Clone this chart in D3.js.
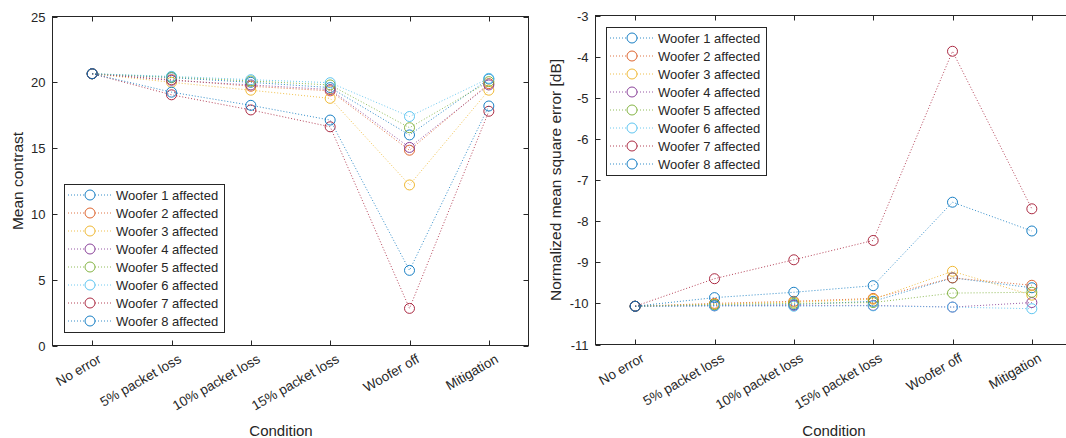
<!DOCTYPE html>
<html>
<head>
<meta charset="utf-8">
<script src="https://cdn.jsdelivr.net/npm/d3@7"></script>
<style>
  body { margin: 0; background: #fff; }
  svg { font-family: "Liberation Sans", Arial, sans-serif; }
  text { fill: #262626; }
</style>
</head>
<body>
<svg id="chart" width="1066" height="438"></svg>
<script>
// conditions on the x axis
const conditions = ['No error', '5% packet loss', '10% packet loss', '15% packet loss', 'Woofer off', 'Mitigation'];
const woofers = ['Woofer 1 affected', 'Woofer 2 affected', 'Woofer 3 affected', 'Woofer 4 affected',
  'Woofer 5 affected', 'Woofer 6 affected', 'Woofer 7 affected', 'Woofer 8 affected'];
const colors = ['#0072BD', '#D95319', '#EDB120', '#7E2F8E', '#77AC30', '#4DBEEE', '#A2142F', '#0072BD'];

// left panel: mean contrast per woofer
const meanContrast = [
  [20.65, 20.35, 20.0, 19.6, 16.0, 20.25],
  [20.65, 20.2, 19.7, 19.35, 14.84, 19.9],
  [20.65, 20.0, 19.4, 18.78, 12.2, 19.4],
  [20.65, 20.15, 19.8, 19.45, 15.05, 19.8],
  [20.65, 20.4, 20.1, 19.8, 16.55, 20.05],
  [20.65, 20.45, 20.2, 19.97, 17.4, 20.3],
  [20.65, 19.05, 17.9, 16.62, 2.82, 17.8],
  [20.65, 19.25, 18.25, 17.13, 5.71, 18.2]
];
const contrastTicks = [0, 5, 10, 15, 20, 25];

// right panel: normalized mean square error in dB
const mseDb = [
  [-10.07, -10.05, -10.03, -9.95, -9.38, -9.62],
  [-10.07, -10.0, -9.95, -9.88, -9.38, -9.56],
  [-10.07, -10.02, -9.97, -9.9, -9.22, -9.8],
  [-10.07, -10.06, -10.05, -10.05, -10.09, -9.98],
  [-10.07, -10.03, -10.0, -9.98, -9.75, -9.73],
  [-10.07, -10.06, -10.07, -10.06, -10.09, -10.13],
  [-10.07, -9.4, -8.94, -8.47, -3.87, -7.7],
  [-10.07, -9.86, -9.73, -9.57, -7.54, -8.24]
];
const mseTicks = [-11, -10, -9, -8, -7, -6, -5, -4, -3];

const svg = d3.select('#chart');

const drawPanel = (opts) => {
  const { left, right, top, bottom, data, yDomain, yTicks, yLabel, yLabelX, xLabelX, legendX, legendY } = opts;

  const x = d3.scaleLinear().domain([0.5, 6.5]).range([left, right]);
  const y = d3.scaleLinear().domain(yDomain).range([bottom, top]);
  const idx = d3.range(conditions.length);

  const g = svg.append('g');

  // box
  g.append('rect')
    .attr('x', left).attr('y', top)
    .attr('width', right - left).attr('height', bottom - top)
    .attr('fill', 'none').attr('stroke', '#262626').attr('stroke-width', 1);

  // x ticks (bottom + top, inward)
  idx.forEach((i) => {
    const xp = Math.round(x(i + 1)) + 0.5;
    g.append('line').attr('x1', xp).attr('x2', xp).attr('y1', bottom).attr('y2', bottom - 5)
      .attr('stroke', '#262626');
    g.append('line').attr('x1', xp).attr('x2', xp).attr('y1', top).attr('y2', top + 5)
      .attr('stroke', '#262626');
    g.append('text')
      .attr('transform', `translate(${xp + 5},${bottom + 8}) rotate(-30)`)
      .attr('text-anchor', 'end')
      .attr('dy', '0.7em')
      .attr('font-size', 13.5)
      .text(conditions[i]);
  });

  // y ticks (left + right, inward)
  yTicks.forEach((t) => {
    const yp = Math.round(y(t)) + 0.5;
    g.append('line').attr('x1', left).attr('x2', left + 5).attr('y1', yp).attr('y2', yp)
      .attr('stroke', '#262626');
    g.append('line').attr('x1', right).attr('x2', right - 5).attr('y1', yp).attr('y2', yp)
      .attr('stroke', '#262626');
    g.append('text')
      .attr('x', left - 7).attr('y', yp)
      .attr('text-anchor', 'end')
      .attr('dy', '0.35em')
      .attr('font-size', 13)
      .text(String(t));
  });

  // axis labels
  g.append('text')
    .attr('x', xLabelX)
    .attr('y', 436)
    .attr('text-anchor', 'middle')
    .attr('font-size', 15)
    .text('Condition');
  g.append('text')
    .attr('transform', `translate(${yLabelX},${(top + bottom) / 2}) rotate(-90)`)
    .attr('text-anchor', 'middle')
    .attr('font-size', 15.5)
    .text(yLabel);

  const line = d3.line()
    .x((d, i) => x(i + 1))
    .y((d) => y(d));

  data.forEach((series, s) => {
    g.append('path')
      .attr('d', line(series))
      .attr('fill', 'none')
      .attr('stroke', colors[s])
      .attr('stroke-width', 1)
      .attr('stroke-dasharray', '1,2')
      .attr('opacity', 0.8);
    g.selectAll(null)
      .data(series)
      .enter()
      .append('circle')
      .attr('cx', (d, i) => x(i + 1))
      .attr('cy', (d) => y(d))
      .attr('r', 5)
      .attr('fill', 'none')
      .attr('stroke', colors[s])
      .attr('stroke-width', 0.9);
  });

  // legend
  const lg = g.append('g').attr('transform', `translate(${legendX},${legendY})`);
  lg.append('rect')
    .attr('x', 0.5).attr('y', 0.5)
    .attr('width', 160).attr('height', 148)
    .attr('fill', '#fff').attr('stroke', '#262626').attr('stroke-width', 1);
  woofers.forEach((name, s) => {
    const ly = 11 + s * 18;
    lg.append('line')
      .attr('x1', 4).attr('x2', 48).attr('y1', ly).attr('y2', ly)
      .attr('stroke', colors[s]).attr('stroke-dasharray', '1,2').attr('opacity', 0.8);
    lg.append('circle')
      .attr('cx', 26).attr('cy', ly).attr('r', 5)
      .attr('fill', '#fff').attr('stroke', colors[s]).attr('stroke-width', 0.9);
    lg.append('text')
      .attr('x', 52).attr('y', ly)
      .attr('dy', '0.35em')
      .attr('font-size', 13)
      .text(name);
  });
};

drawPanel({
  left: 52.5, right: 528.5, top: 16.5, bottom: 345.5,
  data: meanContrast, yDomain: [0, 25], yTicks: contrastTicks,
  yLabel: 'Mean contrast', yLabelX: 23, xLabelX: 281,
  legendX: 64, legendY: 184
});

drawPanel({
  left: 595.5, right: 1071.5, top: 15.5, bottom: 344.5,
  data: mseDb, yDomain: [-11, -3], yTicks: mseTicks,
  yLabel: 'Normalized mean square error [dB]', yLabelX: 561, xLabelX: 834,
  legendX: 606, legendY: 27
});
</script>
</body>
</html>
